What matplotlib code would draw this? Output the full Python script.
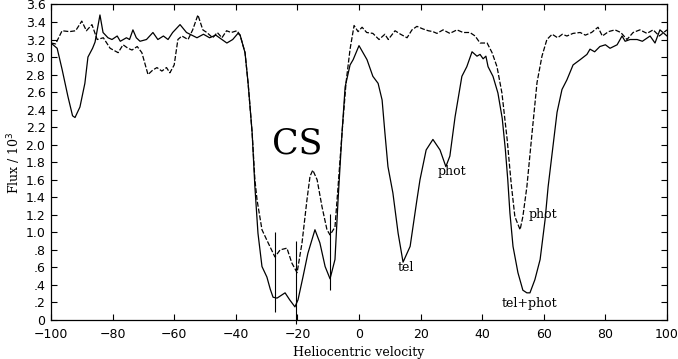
import matplotlib
matplotlib.use("Agg")
import matplotlib.pyplot as plt
import numpy as np

solid_v = [-100, -98, -96.4, -94.5, -93, -92.2, -90.6, -89, -88, -86.5, -85.7, -84.1, -83.1, -81.5,
           -80.2, -78.5, -77.5, -75.5, -74.5, -73.4, -72.3, -71.1, -69, -66.9, -65.3, -63.5, -62,
           -60.5, -58.1, -56, -52.6, -50.5, -48.5, -46.5, -44.5, -42.9, -41, -39.3, -38.6, -37, -36,
           -34.7, -33.8, -32.8, -31.5, -29.9, -28.8, -27.9, -26.6, -24, -22.5, -20.8, -19.8, -18.2,
           -16.6, -14.3, -12.7, -11, -9.4, -7.8, -6.8, -5.5, -4.5, -2.9, -1.9, 0, 1.3, 2.6, 4.5, 6.2,
           7.5, 8.4, 9.4, 11, 12.7, 14.3, 16.6, 18.8, 19.8, 21.8, 24, 26.3, 28.2, 29.5, 31.2, 33.4,
           35, 36.7, 38.3, 39.3, 40.3, 41.2, 41.9, 43.5, 45.1, 46.5, 47.5, 48.3, 49, 50, 51.6, 53.2,
           54.5, 55.5, 57.1, 58.8, 60.4, 61.4, 62.7, 64.3, 65.9, 67.5, 69.5, 71.8, 74, 75, 76.5,
           78.2, 80, 81.5, 83.8, 85.4, 86.4, 88, 90.3, 92, 94.5, 96.1, 97.7, 100]
solid_f = [3.16, 3.1, 2.86, 2.55, 2.33, 2.31, 2.43, 2.7, 3.0, 3.1, 3.17, 3.48, 3.28, 3.22,
           3.2, 3.24, 3.18, 3.22, 3.2, 3.31, 3.22, 3.18, 3.2, 3.28, 3.2, 3.24, 3.2,
           3.28, 3.37, 3.28, 3.22, 3.26, 3.22, 3.25, 3.2, 3.16, 3.2, 3.27, 3.25, 3.05, 2.7,
           2.14, 1.52, 0.99, 0.61, 0.49, 0.35, 0.26, 0.25, 0.31, 0.23, 0.15, 0.23, 0.49,
           0.76, 1.03, 0.88, 0.61, 0.47, 0.69, 1.37, 2.14, 2.66, 2.91, 2.97, 3.13, 3.05, 2.97, 2.78, 2.7,
           2.51, 2.14, 1.75, 1.45, 0.99, 0.66, 0.84, 1.37, 1.6, 1.94, 2.06, 1.94, 1.75, 1.87, 2.32, 2.78,
           2.89, 3.06, 3.01, 3.03, 2.98, 3.01, 2.89, 2.78, 2.59, 2.3, 1.95, 1.6, 1.22, 0.84, 0.54, 0.34,
           0.31, 0.31, 0.46, 0.69, 1.14, 1.52, 1.9, 2.37, 2.63, 2.74, 2.91, 2.97, 3.03, 3.09, 3.06,
           3.12, 3.14, 3.1, 3.14, 3.24, 3.18, 3.2, 3.2, 3.18, 3.24, 3.16, 3.31, 3.24]

dashed_v = [-100, -98.5, -96.4, -94, -92, -90, -88.5, -86.7, -85, -83, -80.8, -78.2, -76.6, -75,
            -73.7, -72, -70.5, -68.5, -67, -65.6, -64, -62.5, -61.4, -60, -58.8, -57.5, -55.5, -54,
            -52.3, -50.7, -49.4, -47.5, -46, -44.5, -43, -41.5, -39.6, -38.6, -37, -36, -34.7, -33.8,
            -33.1, -31.5, -29.9, -27.3, -25.6, -23.4, -21.8, -20.1, -18.5, -16.9, -15.9, -15, -13.6,
            -12, -10.4, -9.4, -7.8, -6.8, -5.5, -4.2, -2.9, -1.6, -0.3, 1, 2.5, 4.5, 6.5, 8.4, 9.5,
            11.7, 13.5, 15.6, 17.2, 18.8, 20.8, 22.5, 24, 25.3, 27.3, 29.5, 31.8, 33.8, 36, 37.7,
            39.3, 41.6, 43.2, 44.8, 46.4, 48.1, 49.4, 50.6, 52.3, 53.2, 54.5, 56.2, 57.8, 59.4, 61,
            62.7, 64.5, 66, 67.5, 69.5, 71.8, 73.5, 75.5, 77.6, 79, 81, 83.1, 85, 87, 89, 91.2, 93.5,
            95.5, 97.5, 100]
dashed_f = [3.16, 3.15, 3.3, 3.29, 3.3, 3.41, 3.3, 3.37, 3.2, 3.22, 3.1, 3.05, 3.14, 3.1,
            3.08, 3.12, 3.05, 2.8, 2.85, 2.88, 2.84, 2.88, 2.82, 2.91, 3.2, 3.24, 3.2, 3.31,
            3.48, 3.31, 3.28, 3.22, 3.28, 3.22, 3.3, 3.28, 3.3, 3.25, 3.05, 2.7, 2.14, 1.6,
            1.37, 1.03, 0.91, 0.72, 0.8, 0.82, 0.65, 0.54, 0.88, 1.37, 1.64, 1.71, 1.6,
            1.29, 1.03, 0.97, 1.06, 1.52, 2.14, 2.71, 3.09, 3.36, 3.29, 3.34, 3.28, 3.27, 3.2, 3.26, 3.2,
            3.3, 3.26, 3.22, 3.31, 3.35, 3.32, 3.3, 3.29, 3.27, 3.31, 3.27, 3.31, 3.28, 3.28, 3.24,
            3.16, 3.16, 3.05, 2.89, 2.59, 2.06, 1.56, 1.18, 1.03, 1.18, 1.52, 2.14, 2.71, 3.01, 3.2,
            3.26, 3.22, 3.26, 3.24, 3.27, 3.28, 3.25, 3.28, 3.34, 3.24, 3.29, 3.31, 3.28, 3.2, 3.28, 3.31, 3.27,
            3.31, 3.24, 3.31]

bar_v = [-27.3, -20.5, -9.4]
bar_lo = [0.09, -0.05, 0.34]
bar_hi = [1.0, 0.9, 1.21]

labels = ["tel", "phot", "phot", "tel+phot"]
label_v = [15.3, 30.2, 59.7, 55.2]
label_f = [0.6, 1.69, 1.2, 0.19]

yticks = [0, 0.2, 0.4, 0.6, 0.8, 1.0, 1.2, 1.4, 1.6, 1.8, 2.0, 2.2, 2.4, 2.6, 2.8, 3.0, 3.2, 3.4, 3.6]
yticklabels = ["0", ".2", ".4", ".6", ".8", "1.0", "1.2", "1.4", "1.6", "1.8", "2.0", "2.2", "2.4",
               "2.6", "2.8", "3.0", "3.2", "3.4", "3.6"]
xticks = [-100, -80, -60, -40, -20, 0, 20, 40, 60, 80, 100]

fig = plt.figure(figsize=(6.78, 3.59), dpi=100)
ax = fig.add_axes([0.0752, 0.1086, 0.9086, 0.879])

ax.plot(solid_v, solid_f, color="black", lw=0.9)
ax.plot(dashed_v, dashed_f, color="black", lw=0.9, dashes=(4, 1.5))
ax.vlines(bar_v, bar_lo, bar_hi, color="black", lw=0.8, clip_on=False)

for t, v, f in zip(labels, label_v, label_f):
    ax.text(v, f, t, ha="center", va="center", fontsize=9, family="DejaVu Serif")
ax.text(-20, 2.01, "CS", ha="center", va="center", fontsize=25, family="DejaVu Serif")

ax.set_xlim(-100, 100)
ax.set_ylim(0, 3.6)
ax.set_xticks(xticks)
ax.set_xticklabels([str(x).replace("-", "\u2212") for x in xticks])
ax.set_yticks(yticks)
ax.set_yticklabels(yticklabels)
ax.tick_params(direction="in", top=True, right=True, length=4, width=0.8, labelsize=9)
ax.tick_params(axis="x", pad=6)
ax.tick_params(axis="y", pad=4)
for s in ax.spines.values():
    s.set_linewidth(0.9)
ax.set_xlabel("Heliocentric velocity", fontsize=9, family="DejaVu Serif", labelpad=3)
ax.set_ylabel("Flux / 10$^3$", fontsize=9, family="DejaVu Serif", labelpad=2)

fig.savefig("out.png", dpi=100)
